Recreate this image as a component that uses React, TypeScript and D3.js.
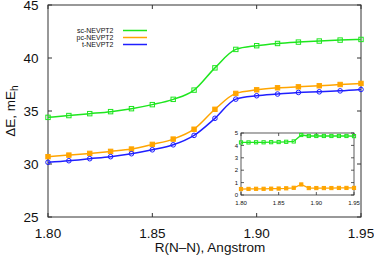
import React from 'react'
import * as d3 from 'd3'

const width = 374
const height = 260
const margin = { top: 5, right: 13, bottom: 43, left: 48 }
const plotW = width - margin.left - margin.right
const plotH = height - margin.top - margin.bottom

const inset = { left: 241, right: 354, top: 133, bottom: 195 }

const font = '"Liberation Sans", Arial, Helvetica, sans-serif'

// bond length R(N-N)
const rValues = [1.8, 1.81, 1.82, 1.83, 1.84, 1.85, 1.86, 1.87, 1.88, 1.89, 1.9, 1.91, 1.92, 1.93, 1.94, 1.95]
const scNevpt2 = [34.4, 34.57, 34.75, 34.94, 35.22, 35.6, 36.1, 36.97, 39.07, 40.81, 41.16, 41.37, 41.5, 41.6, 41.69, 41.75]
const pcNevpt2 = [30.69, 30.84, 31.0, 31.19, 31.41, 31.85, 32.35, 33.28, 35.16, 36.66, 37.0, 37.19, 37.28, 37.38, 37.5, 37.6]
const tNevpt2 = [30.16, 30.31, 30.5, 30.69, 30.97, 31.34, 31.81, 32.7, 34.31, 36.12, 36.44, 36.6, 36.75, 36.81, 36.9, 37.03]

// inset: differences vs t-NEVPT2
const insetSc = [4.24, 4.24, 4.25, 4.25, 4.26, 4.27, 4.29, 4.32, 4.84, 4.76, 4.76, 4.76, 4.76, 4.76, 4.76, 4.75]
const insetPc = [0.48, 0.49, 0.5, 0.5, 0.51, 0.52, 0.54, 0.58, 0.85, 0.56, 0.56, 0.56, 0.56, 0.57, 0.57, 0.57]

const xTicks = [1.8, 1.85, 1.9, 1.95]
const yTicks = [25, 30, 35, 40, 45]
const insetYTicks = [0, 1, 2, 3, 4, 5]

const green = '#1ee61e'
const orange = '#ffa500'
const blue = '#1f1fff'
const axisColor = '#333'

const series = [
	{ name: 'sc-NEVPT2', values: scNevpt2, color: green, marker: 'openSquare' },
	{ name: 'pc-NEVPT2', values: pcNevpt2, color: orange, marker: 'filledSquare' },
	{ name: 't-NEVPT2', values: tNevpt2, color: blue, marker: 'openCircle' },
]

const Marker = ({ type, x, y, color, s }) => {
	if (type === 'openCircle')
		return <circle cx={x} cy={y} r={s / 2} fill="none" stroke={color} strokeWidth={1} />
	return (
		<rect
			x={x - s / 2}
			y={y - s / 2}
			width={s}
			height={s}
			fill={type === 'filledSquare' ? color : 'none'}
			stroke={color}
			strokeWidth={1}
		/>
	)
}

export default function App() {
	const x = d3.scaleLinear().domain([1.8, 1.95]).range([margin.left, margin.left + plotW])
	const y = d3.scaleLinear().domain([25, 45]).range([margin.top + plotH, margin.top])

	const ix = d3.scaleLinear().domain([1.8, 1.95]).range([inset.left, inset.right])
	const iy = d3.scaleLinear().domain([0, 5]).range([inset.bottom, inset.top])

	const line = (vals) =>
		d3
			.line<number>()
			.x((d, i) => x(rValues[i]))
			.y(d => y(d))
			.curve(d3.curveMonotoneX)(vals)

	const insetLine = (vals) =>
		d3
			.line<number>()
			.x((d, i) => ix(rValues[i]))
			.y(d => iy(d))(vals)

	const tk = 4
	const itk = 3

	return (
		<svg width={width} height={height} style={{ position: 'absolute', left: 0, top: 0 }} fontFamily={font}>
			<rect width={width} height={height} fill="white" />

			{/* main frame + ticks */}
			<rect x={margin.left} y={margin.top} width={plotW} height={plotH} fill="none" stroke={axisColor} strokeWidth={1} />
			{xTicks.map(t => (
				<g key={'x' + t}>
					<line x1={x(t)} x2={x(t)} y1={margin.top + plotH} y2={margin.top + plotH - tk} stroke={axisColor} />
					<line x1={x(t)} x2={x(t)} y1={margin.top} y2={margin.top + tk} stroke={axisColor} />
					<text x={x(t)} y={margin.top + plotH + 21} fontSize={13.5} textAnchor="middle" fill="#111">
						{d3.format('.2f')(t)}
					</text>
				</g>
			))}
			{yTicks.map(t => (
				<g key={'y' + t}>
					<line x1={margin.left} x2={margin.left + tk} y1={y(t)} y2={y(t)} stroke={axisColor} />
					<line x1={margin.left + plotW} x2={margin.left + plotW - tk} y1={y(t)} y2={y(t)} stroke={axisColor} />
					<text x={38.5} y={y(t) + 4.8} fontSize={13.5} textAnchor="end" fill="#111">
						{t}
					</text>
				</g>
			))}
			<text x={210} y={252} fontSize={13.5} textAnchor="middle" fill="#111">
				R(N–N), Angstrom
			</text>
			<text transform={`translate(14.5, ${margin.top + plotH / 2}) rotate(-90)`} fontSize={13.5} textAnchor="middle" fill="#111">
				ΔE, mE<tspan fontSize={10} dy={3}>h</tspan>
			</text>

			{/* series */}
			{series.map(s => (
				<g key={s.name}>
					<path d={line(s.values)} fill="none" stroke={s.color} strokeWidth={1.5} />
					{s.values.map((v, i) => (
						<Marker key={i} type={s.marker} x={x(rValues[i])} y={y(v)} color={s.color} s={s.marker === 'openCircle' ? 4.6 : 4.4} />
					))}
				</g>
			))}

			{/* legend */}
			{series.map((s, i) => (
				<g key={'lg' + s.name}>
					<text x={113.5} y={33 + i * 7} fontSize={7} textAnchor="end" fill="#111">
						{s.name}
					</text>
					<line x1={123} x2={147} y1={30.5 + i * 7} y2={30.5 + i * 7} stroke={s.color} strokeWidth={1.5} />
				</g>
			))}

			{/* inset */}
			<rect x={inset.left} y={inset.top} width={inset.right - inset.left} height={inset.bottom - inset.top} fill="white" stroke={axisColor} strokeWidth={0.8} />
			{xTicks.map(t => (
				<g key={'ix' + t}>
					<line x1={ix(t)} x2={ix(t)} y1={inset.bottom} y2={inset.bottom - itk} stroke={axisColor} strokeWidth={0.8} />
					<line x1={ix(t)} x2={ix(t)} y1={inset.top} y2={inset.top + itk} stroke={axisColor} strokeWidth={0.8} />
					<text x={ix(t)} y={205} fontSize={6} textAnchor="middle" fill="#111">
						{d3.format('.2f')(t)}
					</text>
				</g>
			))}
			{insetYTicks.map(t => (
				<g key={'iy' + t}>
					<line x1={inset.left} x2={inset.left + itk} y1={iy(t)} y2={iy(t)} stroke={axisColor} strokeWidth={0.8} />
					<line x1={inset.right} x2={inset.right - itk} y1={iy(t)} y2={iy(t)} stroke={axisColor} strokeWidth={0.8} />
					<text x={238} y={iy(t) + 2.2} fontSize={6} textAnchor="end" fill="#111">
						{t}
					</text>
				</g>
			))}
			<path d={insetLine(insetSc)} fill="none" stroke={green} strokeWidth={1.3} />
			{insetSc.map((v, i) => (
				<Marker key={'is' + i} type="openSquare" x={ix(rValues[i])} y={iy(v)} color={green} s={3.2} />
			))}
			<path d={insetLine(insetPc)} fill="none" stroke={orange} strokeWidth={1.3} />
			{insetPc.map((v, i) => (
				<Marker key={'ip' + i} type="filledSquare" x={ix(rValues[i])} y={iy(v)} color={orange} s={3.2} />
			))}
		</svg>
	)
}
